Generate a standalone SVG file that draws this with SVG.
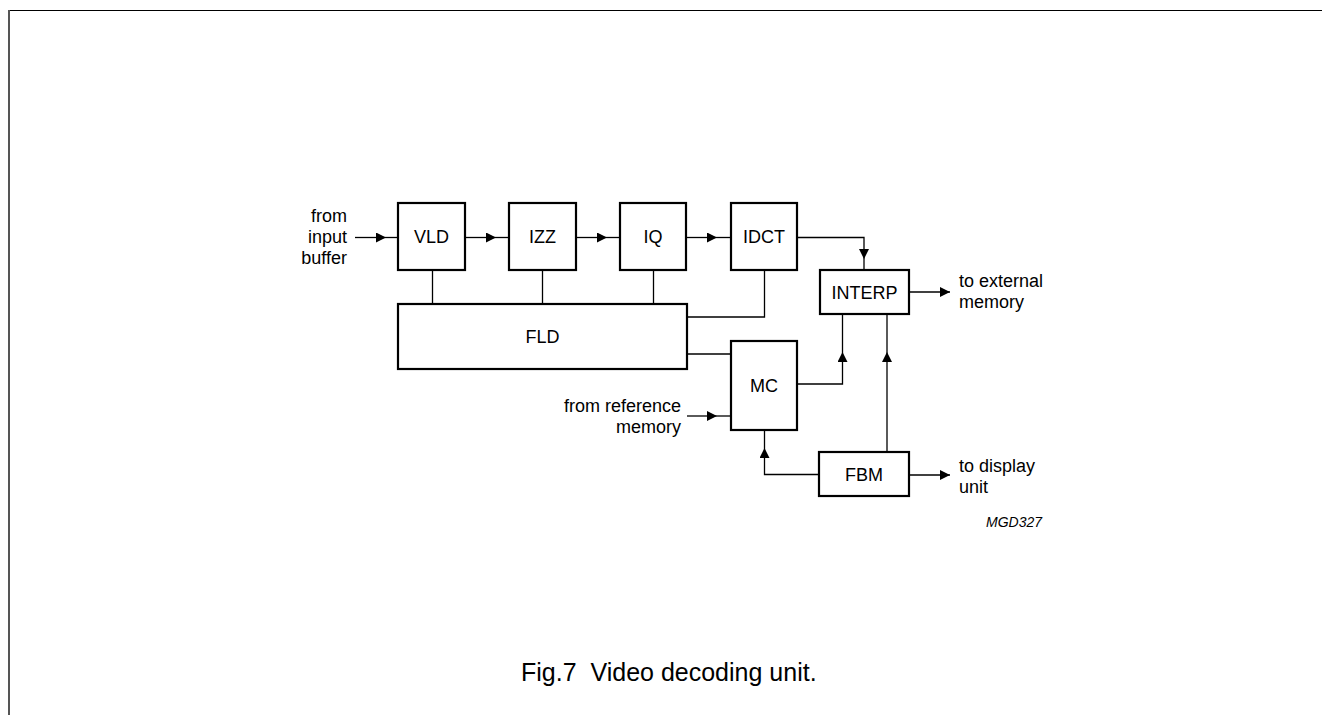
<svg xmlns="http://www.w3.org/2000/svg" width="1322" height="715" viewBox="0 0 1322 715">
<style>
.box{fill:#fff;stroke:#000;stroke-width:2.2}
.lbl{font-family:"Liberation Sans",Arial,sans-serif;font-size:18px;fill:#000;text-anchor:middle}
.txt{font-family:"Liberation Sans",Arial,sans-serif;font-size:18px;fill:#000}
.con{fill:none;stroke:#000;stroke-width:1.3}
</style>
<defs>
<marker id="ah" viewBox="0 0 10 10" refX="10" refY="5" markerWidth="10" markerHeight="10" markerUnits="userSpaceOnUse" orient="auto">
<path d="M0,0 L10,5 L0,10 z" fill="#000"/>
</marker>
</defs>
<g id="frame">
<line x1="8" y1="10.5" x2="1322" y2="10.5" stroke="#000" stroke-width="1.2"/>
<line x1="9" y1="10" x2="9" y2="715" stroke="#555" stroke-width="2"/>
</g>
<g id="connectors">
<path class="con" d="M355,237.5 H386" marker-end="url(#ah)"/>
<path class="con" d="M386,237.5 H398"/>
<path class="con" d="M465,237.5 H496" marker-end="url(#ah)"/>
<path class="con" d="M496,237.5 H509"/>
<path class="con" d="M576,237.5 H607" marker-end="url(#ah)"/>
<path class="con" d="M607,237.5 H620"/>
<path class="con" d="M686,237.5 H717" marker-end="url(#ah)"/>
<path class="con" d="M717,237.5 H731"/>
<path class="con" d="M797,237.5 H864 V259" marker-end="url(#ah)"/>
<path class="con" d="M864,259 V270"/>
<path class="con" d="M909,292 H950" marker-end="url(#ah)"/>
<path class="con" d="M432.5,270 V304"/>
<path class="con" d="M542.5,270 V304"/>
<path class="con" d="M653.5,270 V304"/>
<path class="con" d="M764.5,270 V317 H687"/>
<path class="con" d="M687,354 H731"/>
<path class="con" d="M797,384 H842.5 V352" marker-end="url(#ah)"/>
<path class="con" d="M842.5,352 V314"/>
<path class="con" d="M687,416 H717" marker-end="url(#ah)"/>
<path class="con" d="M717,416 H731"/>
<path class="con" d="M819,474.5 H764.5 V448" marker-end="url(#ah)"/>
<path class="con" d="M764.5,448 V430"/>
<path class="con" d="M887,452 V352" marker-end="url(#ah)"/>
<path class="con" d="M887,352 V314"/>
<path class="con" d="M909,475 H950" marker-end="url(#ah)"/>
</g>
<g id="VLD"><rect class="box" x="398" y="203" width="67" height="67"/><text class="lbl" x="431.5" y="243">VLD</text></g>
<g id="IZZ"><rect class="box" x="509" y="203" width="67" height="67"/><text class="lbl" x="542.5" y="243">IZZ</text></g>
<g id="IQ"><rect class="box" x="620" y="203" width="66" height="67"/><text class="lbl" x="653" y="243">IQ</text></g>
<g id="IDCT"><rect class="box" x="731" y="203" width="66" height="67"/><text class="lbl" x="764" y="243">IDCT</text></g>
<g id="FLD"><rect class="box" x="398" y="304" width="289" height="65"/><text class="lbl" x="542.5" y="343">FLD</text></g>
<g id="INTERP"><rect class="box" x="820" y="270" width="89" height="44"/><text class="lbl" x="864.5" y="298.5">INTERP</text></g>
<g id="MC"><rect class="box" x="731" y="341" width="66" height="89"/><text class="lbl" x="764" y="391.5">MC</text></g>
<g id="FBM"><rect class="box" x="819" y="452" width="90" height="44"/><text class="lbl" x="864" y="481">FBM</text></g>
<g id="labels">
<text class="txt" text-anchor="end" x="347" y="222">from</text>
<text class="txt" text-anchor="end" x="347" y="243">input</text>
<text class="txt" text-anchor="end" x="347" y="264">buffer</text>
<text class="txt" x="959" y="287">to external</text>
<text class="txt" x="959" y="308">memory</text>
<text class="txt" text-anchor="end" x="681" y="412">from reference</text>
<text class="txt" text-anchor="end" x="681" y="433">memory</text>
<text class="txt" x="959" y="472">to display</text>
<text class="txt" x="959" y="493">unit</text>
<text x="1042" y="527" text-anchor="end" font-family="'Liberation Sans',Arial,sans-serif" font-size="14" font-style="italic">MGD327</text>
<text x="521" y="681" font-family="'Liberation Sans',Arial,sans-serif" font-size="25" xml:space="preserve">Fig.7  Video decoding unit.</text>
</g>
</svg>
